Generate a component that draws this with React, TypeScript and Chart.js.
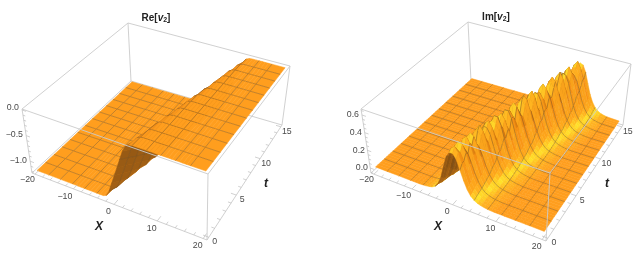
import React, { useEffect, useRef } from "react";
import { Chart, registerables } from "chart.js";

Chart.register(...registerables);

// ---- values ----
const meshX = [-20, -16.92, -13.85, -10.77, -7.69, -4.62, -1.54, 1.54, 4.62, 7.69, 10.77, 13.85, 16.92, 20];
const tRows = [0, 0.288, 0.577, 0.865, 1.154, 1.442, 1.731, 2.019, 2.308, 2.596, 2.885, 3.173, 3.462, 3.75, 4.038, 4.327, 4.615, 4.904, 5.192, 5.481, 5.769, 6.058, 6.346, 6.635, 6.923, 7.212, 7.5, 7.788, 8.077, 8.365, 8.654, 8.942, 9.231, 9.519, 9.808, 10.096, 10.385, 10.673, 10.962, 11.25, 11.538, 11.827, 12.115, 12.404, 12.692, 12.981, 13.269, 13.558, 13.846, 14.135, 14.423, 14.712, 15];
const ridgeX = [-0.3, -0.1, 0.1, 0.25, 0.45, 0.65, 0.85, 1.0, 1.2, 1.4, 1.6, 1.8, 1.95, 2.15, 2.35, 2.55, 2.7, 2.9, 3.1, 3.3, 3.5, 3.65, 3.85, 4.05, 4.25, 4.4, 4.6, 4.8, 5.0, 5.2, 5.35, 5.55, 5.75, 5.95, 6.1, 6.3, 6.5, 6.7, 6.9, 7.05, 7.25, 7.45, 7.65, 7.8, 8.0, 8.2, 8.4, 8.6, 8.75, 8.95, 9.15, 9.35, 9.55];
const reRidgeX = [1.2, 1.75, 2.35, 2.9, 3.5, 4.05, 4.6, 5.2, 5.75, 6.35, 6.9, 7.45, 8.05, 8.6];
const imCrest = [0.5, 0.52, 0.51, 0.53, 0.5, 0.53, 0.51, 0.53, 0.5, 0.53, 0.54, 0.51, 0.53, 0.54, 0.51, 0.53, 0.54, 0.51, 0.53, 0.5, 0.54, 0.53, 0.51, 0.54, 0.52, 0.5, 0.53, 0.55, 0.51, 0.53, 0.54, 0.51, 0.53, 0.52, 0.51, 0.54, 0.52, 0.51, 0.53, 0.55, 0.51, 0.53, 0.55, 0.52, 0.54, 0.53, 0.55, 0.53, 0.54, 0.52, 0.55, 0.53, 0.54];
const imSpike = [0, 0.02, -0.02, 0.03, -0.03, 0.04, -0.02, 0.04, -0.05, 0.03, 0.05, -0.04, 0.02, 0.05, -0.05, 0.02, 0.06, -0.04, 0.03, -0.06, 0.05, 0.02, -0.05, 0.06, -0.01, -0.06, 0.04, 0.06, -0.04, 0.01, 0.06, -0.06, 0.03, 0.02, -0.05, 0.06, -0.01, -0.06, 0.03, 0.06, -0.05, 0.02, 0.06, -0.04, 0.04, -0.01, 0.06, 0.02, -0.04, 0.05, 0.06, -0.02, 0.03];
const imOffsets = [-30, -8, -6.5, -5, -4, -3, -2, -1, 0, 1, 2, 3, 4, 5, 6, 7.5, 9, 30];
const imProfile = [0, 0, 0.01, 0.04, 0.1, 0.26, 0.6, 0.92, 1, 0.88, 0.6, 0.33, 0.17, 0.085, 0.04, 0.012, 0, 0];
const spikeOffsets = [-30, -1.6, -0.8, 0, 0.8, 1.8, 3, 4, 30];
const spikeProfile = [0, 0, 0.5, 1, 0.7, 0.25, 0.05, 0, 0];
const reOffsets = [-30, -4.2, -3.4, -2.8, -2, -1, 0, 1, 1.7, 2.4, 3.2, 30];
const reProfile = [-1.2, -1.2, -1.17, -1.08, -0.9, -0.68, -0.45, -0.2, -0.07, -0.02, 0, 0];
const imZTicks = [0, 0.2, 0.4, 0.6];
const reZTicks = [0, -0.5, -1];
const xTicks = [-20, -10, 0, 10, 20];
const tTicks = [0, 5, 10, 15];

type P = [number, number];
type Panel = {
  bottom: P[];
  top: P[];
  zMin: number;
  zMax: number;
  slope: number;
  rowStep: number;
  stops: [number, number[]][];
  height: (col: number, row: number) => number;
  zTicks: number[];
  zLabelFmt: (v: number) => string;
  zLabel: (v: number) => P;
  xLabel: P;
  tLabel: P;
  xOff: P;
  tOff: P;
  titleName: string;
  titleX: number;
  titleY: number;
  minorZ: number;
};

const X0 = -20.8, X1 = 20.8, T0 = -0.3, T1 = 15.3;

function homography(q: P[]) {
  const [[x0, y0], [x1, y1], [x2, y2], [x3, y3]] = q;
  const dx1 = x1 - x2, dx2 = x3 - x2, sx = x0 - x1 + x2 - x3;
  const dy1 = y1 - y2, dy2 = y3 - y2, sy = y0 - y1 + y2 - y3;
  const den = dx1 * dy2 - dx2 * dy1;
  const g = (sx * dy2 - dx2 * sy) / den;
  const h = (dx1 * sy - sx * dy1) / den;
  const a = x1 - x0 + g * x1, b = x3 - x0 + h * x3;
  const d = y1 - y0 + g * y1, e = y3 - y0 + h * y3;
  return (u: number, v: number): P => {
    const w = g * u + h * v + 1;
    return [(a * u + b * v + x0) / w, (d * u + e * v + y0) / w];
  };
}

function lookup(xs: number[], ys: number[], x: number) {
  for (let i = 1; i < xs.length; i++) {
    if (x <= xs[i]) {
      const f = (x - xs[i - 1]) / (xs[i] - xs[i - 1]);
      return ys[i - 1] + (ys[i] - ys[i - 1]) * f;
    }
  }
  return ys[ys.length - 1];
}

const columns: { x: number; mesh: boolean }[] = [];
meshX.forEach((x, i) => {
  columns.push({ x, mesh: i > 0 && i < meshX.length - 1 });
  if (i < meshX.length - 1 && x >= -10.8 && x < 16.9) {
    const step = (meshX[i + 1] - x) / 4;
    for (let k = 1; k < 4; k++) columns.push({ x: x + k * step, mesh: false });
  }
});

const IM_STOPS: [number, number[]][] = [
  [0, [255, 158, 30]],
  [0.07, [255, 190, 34]],
  [0.15, [255, 228, 42]],
  [0.28, [255, 172, 28]],
  [0.5, [250, 150, 22]],
  [1, [240, 134, 18]],
];
const RE_STOPS: [number, number[]][] = [
  [0, [255, 158, 30]],
  [0.1, [250, 150, 28]],
  [0.3, [232, 136, 26]],
  [1, [205, 118, 22]],
];

const rePanel: Panel = {
  bottom: [[32, 173], [207, 240], [282, 125], [131, 81]],
  top: [[22, 109], [208, 174], [290, 66], [128, 23]],
  zMin: -1.23,
  zMax: 0.02,
  slope: 0.5,
  rowStep: 4,
  stops: RE_STOPS,
  height: (c, r) => lookup(reOffsets, reProfile, columns[c].x - reRidgeX[r / 4]),
  zTicks: reZTicks,
  zLabelFmt: (v) => (v === 0 ? "0.0" : "\u2212" + Math.abs(v).toFixed(1)),
  zLabel: (v) => [v === 0 ? 19 : v === -0.5 ? 23 : 27, v === 0 ? 108 : v === -0.5 ? 135 : 161],
  xLabel: [99, 227],
  tLabel: [266, 184],
  xOff: [-5.5, 7.5],
  tOff: [6, 4.5],
  titleName: "Re[",
  titleX: 156,
  titleY: 18,
  minorZ: 0.1,
};

const imPanel: Panel = {
  bottom: [[371, 173], [546, 241], [623, 125], [471, 81]],
  top: [[361, 109], [550, 173], [631, 64], [468, 22]],
  zMin: -0.057,
  zMax: 0.668,
  slope: 0.22,
  rowStep: 1,
  stops: IM_STOPS,
  height: (c, r) => {
    const d = columns[c].x - ridgeX[r];
    return imCrest[r] * lookup(imOffsets, imProfile, d) + imSpike[r] * lookup(spikeOffsets, spikeProfile, d);
  },
  zTicks: imZTicks,
  zLabelFmt: (v) => v.toFixed(1),
  zLabel: (v) => [v === 0 ? 368 : v === 0.2 ? 365 : v === 0.4 ? 362 : 359, 168 - (v / 0.6) * 53],
  xLabel: [438, 227],
  tLabel: [607, 184],
  xOff: [-5.5, 7],
  tOff: [6, 4.5],
  titleName: "Im[",
  titleX: 496,
  titleY: 17,
  minorZ: 0.05,
};

const panels = [rePanel, imPanel];

const BOX = "#cbcbcb";
const MESH = "rgba(110,80,40,0.6)";
const MESH_W = 0.7;

function mix(a: number[], b: number[], f: number) {
  return a.map((v, i) => v + (b[i] - v) * f);
}
function css(c: number[]) {
  return `rgb(${Math.round(c[0])},${Math.round(c[1])},${Math.round(c[2])})`;
}
function ramp(stops: [number, number[]][], m: number) {
  const v = Math.min(1, m);
  for (let i = 1; i < stops.length; i++) {
    if (v <= stops[i][0]) {
      return mix(stops[i - 1][1], stops[i][1], (v - stops[i - 1][0]) / (stops[i][0] - stops[i - 1][0]));
    }
  }
  return stops[stops.length - 1][1];
}

function buildPanel(p: Panel) {
  const hb = homography(p.bottom);
  const ht = homography(p.top);
  const proj = (x: number, t: number, z: number) => {
    const u = (x - X0) / (X1 - X0), v = (t - T0) / (T1 - T0), w = (z - p.zMin) / (p.zMax - p.zMin);
    const b = hb(u, v), a = ht(u, v);
    return { x: b[0] + (a[0] - b[0]) * w, y: b[1] + (a[1] - b[1]) * w };
  };
  const out: any[] = [];
  const line = (pts: any[], color: string, width: number) =>
    out.push({ data: pts, borderColor: color, borderWidth: width, pointRadius: 0, fill: false, tension: 0 });

  // back edges of the box
  line([proj(X0, T1, p.zMin), proj(X0, T1, p.zMax)], BOX, 0.9);
  line([proj(X0, T1, p.zMin), proj(X1, T1, p.zMin)], BOX, 0.9);
  line([proj(X0, T1, p.zMin), proj(X0, T0, p.zMin)], BOX, 0.9);
  line([proj(X0, T1, p.zMax), proj(X1, T1, p.zMax)], BOX, 0.9);
  line([proj(X0, T1, p.zMax), proj(X0, T0, p.zMax)], BOX, 0.9);
  line([proj(X1, T1, p.zMin), proj(X1, T1, p.zMax)], BOX, 0.9);

  // surface, far rows first, left columns first
  const rows: number[] = [];
  for (let r = 0; r < tRows.length; r += p.rowStep) rows.push(r);
  const area = (q: { x: number; y: number }[]) => {
    let s = 0;
    q.forEach((a, i) => {
      const b = q[(i + 1) % q.length];
      s += a.x * b.y - b.x * a.y;
    });
    return s;
  };
  const flatSign = Math.sign(area([proj(X0, 0, p.zMin), proj(X1, 0, p.zMin), proj(X1, 15, p.zMin), proj(X0, 15, p.zMin)]));
  const tStride = 4;
  for (let ri = rows.length - 2; ri >= 0; ri--) {
    const r0 = rows[ri], r1 = rows[ri + 1];
    for (let c = 0; c < columns.length - 1; c++) {
      const xa = columns[c].x, xb = columns[c + 1].x;
      const z00 = p.height(c, r0), z10 = p.height(c + 1, r0), z11 = p.height(c + 1, r1), z01 = p.height(c, r1);
      const q = [proj(xa, tRows[r0], z00), proj(xb, tRows[r0], z10), proj(xb, tRows[r1], z11), proj(xa, tRows[r1], z01)];
      const sx = ((z10 + z11) - (z00 + z01)) / 2 / (xb - xa);
      const st = ((z01 + z11) - (z00 + z10)) / 2 / (tRows[r1] - tRows[r0]);
      const m = Math.abs(sx) / p.slope;
      let col: number[];
      if (Math.sign(area(q)) !== flatSign) {
        col = mix([205, 122, 26], [150, 88, 18], Math.min(1, m));
        if (st < 0) col = mix(col, [110, 66, 16], Math.min(0.6, -st / 0.3));
      } else {
        col = ramp(p.stops, m);
        const k = Math.max(-1, Math.min(1, st / 0.15));
        if (k < 0) col = mix(col, [178, 96, 12], -k * 0.6);
        else col = mix(col, [255, 196, 40], k * 0.35);
      }
      const fill = css(col);
      out.push({ data: [...q, q[0]], borderColor: fill, backgroundColor: fill, borderWidth: 0.5, pointRadius: 0, fill: "shape", tension: 0 });
      if (r1 % tStride === 0 && r1 < tRows.length - 1) line([q[3], q[2]], MESH, MESH_W);
      if (columns[c].mesh) line([q[0], q[3]], MESH, MESH_W);
    }
  }

  // front edges of the box
  line([proj(X0, T0, p.zMin), proj(X0, T0, p.zMax)], BOX, 0.9);
  line([proj(X0, T0, p.zMin), proj(X1, T0, p.zMin)], BOX, 0.9);
  line([proj(X1, T0, p.zMin), proj(X1, T1, p.zMin)], BOX, 0.9);
  line([proj(X1, T0, p.zMin), proj(X1, T0, p.zMax)], BOX, 0.9);
  line([proj(X0, T0, p.zMax), proj(X1, T0, p.zMax)], BOX, 0.9);
  line([proj(X1, T0, p.zMax), proj(X1, T1, p.zMax)], BOX, 0.9);

  // tick marks
  const marks: any[] = [];
  for (let x = -20; x <= 20; x += 2) {
    const len = x % 10 === 0 ? 0.55 : 0.3;
    marks.push(proj(x, T0, p.zMin), proj(x, T0 + len, p.zMin), { x: null, y: null });
  }
  for (let t = 0; t <= 15; t += 1) {
    const len = t % 5 === 0 ? 1.2 : 0.7;
    marks.push(proj(X1, t, p.zMin), proj(X1 - len, t, p.zMin), { x: null, y: null });
  }
  const top = Math.ceil(p.zMax / p.minorZ);
  for (let i = Math.floor(p.zMin / p.minorZ); i <= top; i++) {
    const z = i * p.minorZ;
    if (z < p.zMin || z > p.zMax) continue;
    const major = p.zTicks.some((v) => Math.abs(v - z) < 1e-6);
    marks.push(proj(X0, T0, z), proj(X0 + (major ? 1.0 : 0.6), T0, z), { x: null, y: null });
  }
  line(marks, "#bdbdbd", 0.7);
  return { datasets: out, proj };
}

const textPlugin = {
  id: "panelText",
  afterDraw(chart: any, _a: any, opts: any) {
    const ctx = chart.ctx as CanvasRenderingContext2D;
    ctx.save();
    ctx.textBaseline = "middle";
    opts.panels.forEach(({ panel, proj }: any) => {
      const p: Panel = panel;
      ctx.fillStyle = "#4a4a4a";
      ctx.font = '8.8px "Liberation Sans"';
      ctx.textAlign = "right";
      p.zTicks.forEach((v) => {
        const [x, y] = p.zLabel(v);
        ctx.fillText(p.zLabelFmt(v), x, y);
      });
      xTicks.forEach((v, i) => {
        const a = proj(v, T0, p.zMin);
        const label = v < 0 ? "\u2212" + Math.abs(v) : String(v);
        ctx.textAlign = "center";
        ctx.fillText(label, a.x + p.xOff[0] + (i === 0 ? -2 : i === 1 ? -3 : 0), a.y + p.xOff[1] + (i === 0 ? -2 : 0));
      });
      tTicks.forEach((v) => {
        const a = proj(X1, v, p.zMin);
        ctx.textAlign = "center";
        ctx.fillText(String(v), a.x + p.tOff[0], a.y + p.tOff[1]);
      });
      ctx.fillStyle = "#222";
      ctx.font = 'italic bold 12px "Liberation Sans"';
      ctx.fillText("X", p.xLabel[0], p.xLabel[1]);
      ctx.fillText("t", p.tLabel[0], p.tLabel[1]);

      // title: Re[v2] with an italic v and a subscript 2
      const pieces: [string, string, number][] = [
        [p.titleName, 'bold 10px "Liberation Sans"', 0],
        ["v", 'italic bold 10px "Liberation Sans"', 0],
        ["2", 'bold 7px "Liberation Sans"', 2],
        ["]", 'bold 10px "Liberation Sans"', 0],
      ];
      let w = 0;
      pieces.forEach(([s, f]) => {
        ctx.font = f;
        w += ctx.measureText(s).width;
      });
      let x = p.titleX - w / 2;
      ctx.textAlign = "left";
      pieces.forEach(([s, f, dy]) => {
        ctx.font = f;
        ctx.fillText(s, x, p.titleY + dy);
        x += ctx.measureText(s).width;
      });
    });
    ctx.restore();
  },
};

export default function App() {
  const ref = useRef<HTMLCanvasElement>(null);
  useEffect(() => {
    if (!ref.current) return;
    const built = panels.map((panel) => ({ panel, ...buildPanel(panel) }));
    const painted = built.flatMap((b) => b.datasets);
    const chart = new Chart(ref.current, {
      type: "line",
      data: { datasets: painted.slice().reverse() },
      plugins: [textPlugin],
      options: {
        animation: false,
        responsive: false,
        events: [],
        layout: { padding: 0 },
        scales: {
          x: { type: "linear", min: 0, max: 643, display: false },
          y: { type: "linear", min: 0, max: 256, reverse: true, display: false },
        },
        plugins: {
          legend: { display: false },
          tooltip: { enabled: false },
          title: { display: false },
          filler: { propagate: false },
          panelText: { panels: built },
        } as any,
      },
    } as any);
    return () => chart.destroy();
  }, []);
  return (
    <canvas
      ref={ref}
      width={643}
      height={256}
      style={{ position: "absolute", left: 0, top: 0, width: 643, height: 256, filter: "blur(0.35px)" }}
    />
  );
}
